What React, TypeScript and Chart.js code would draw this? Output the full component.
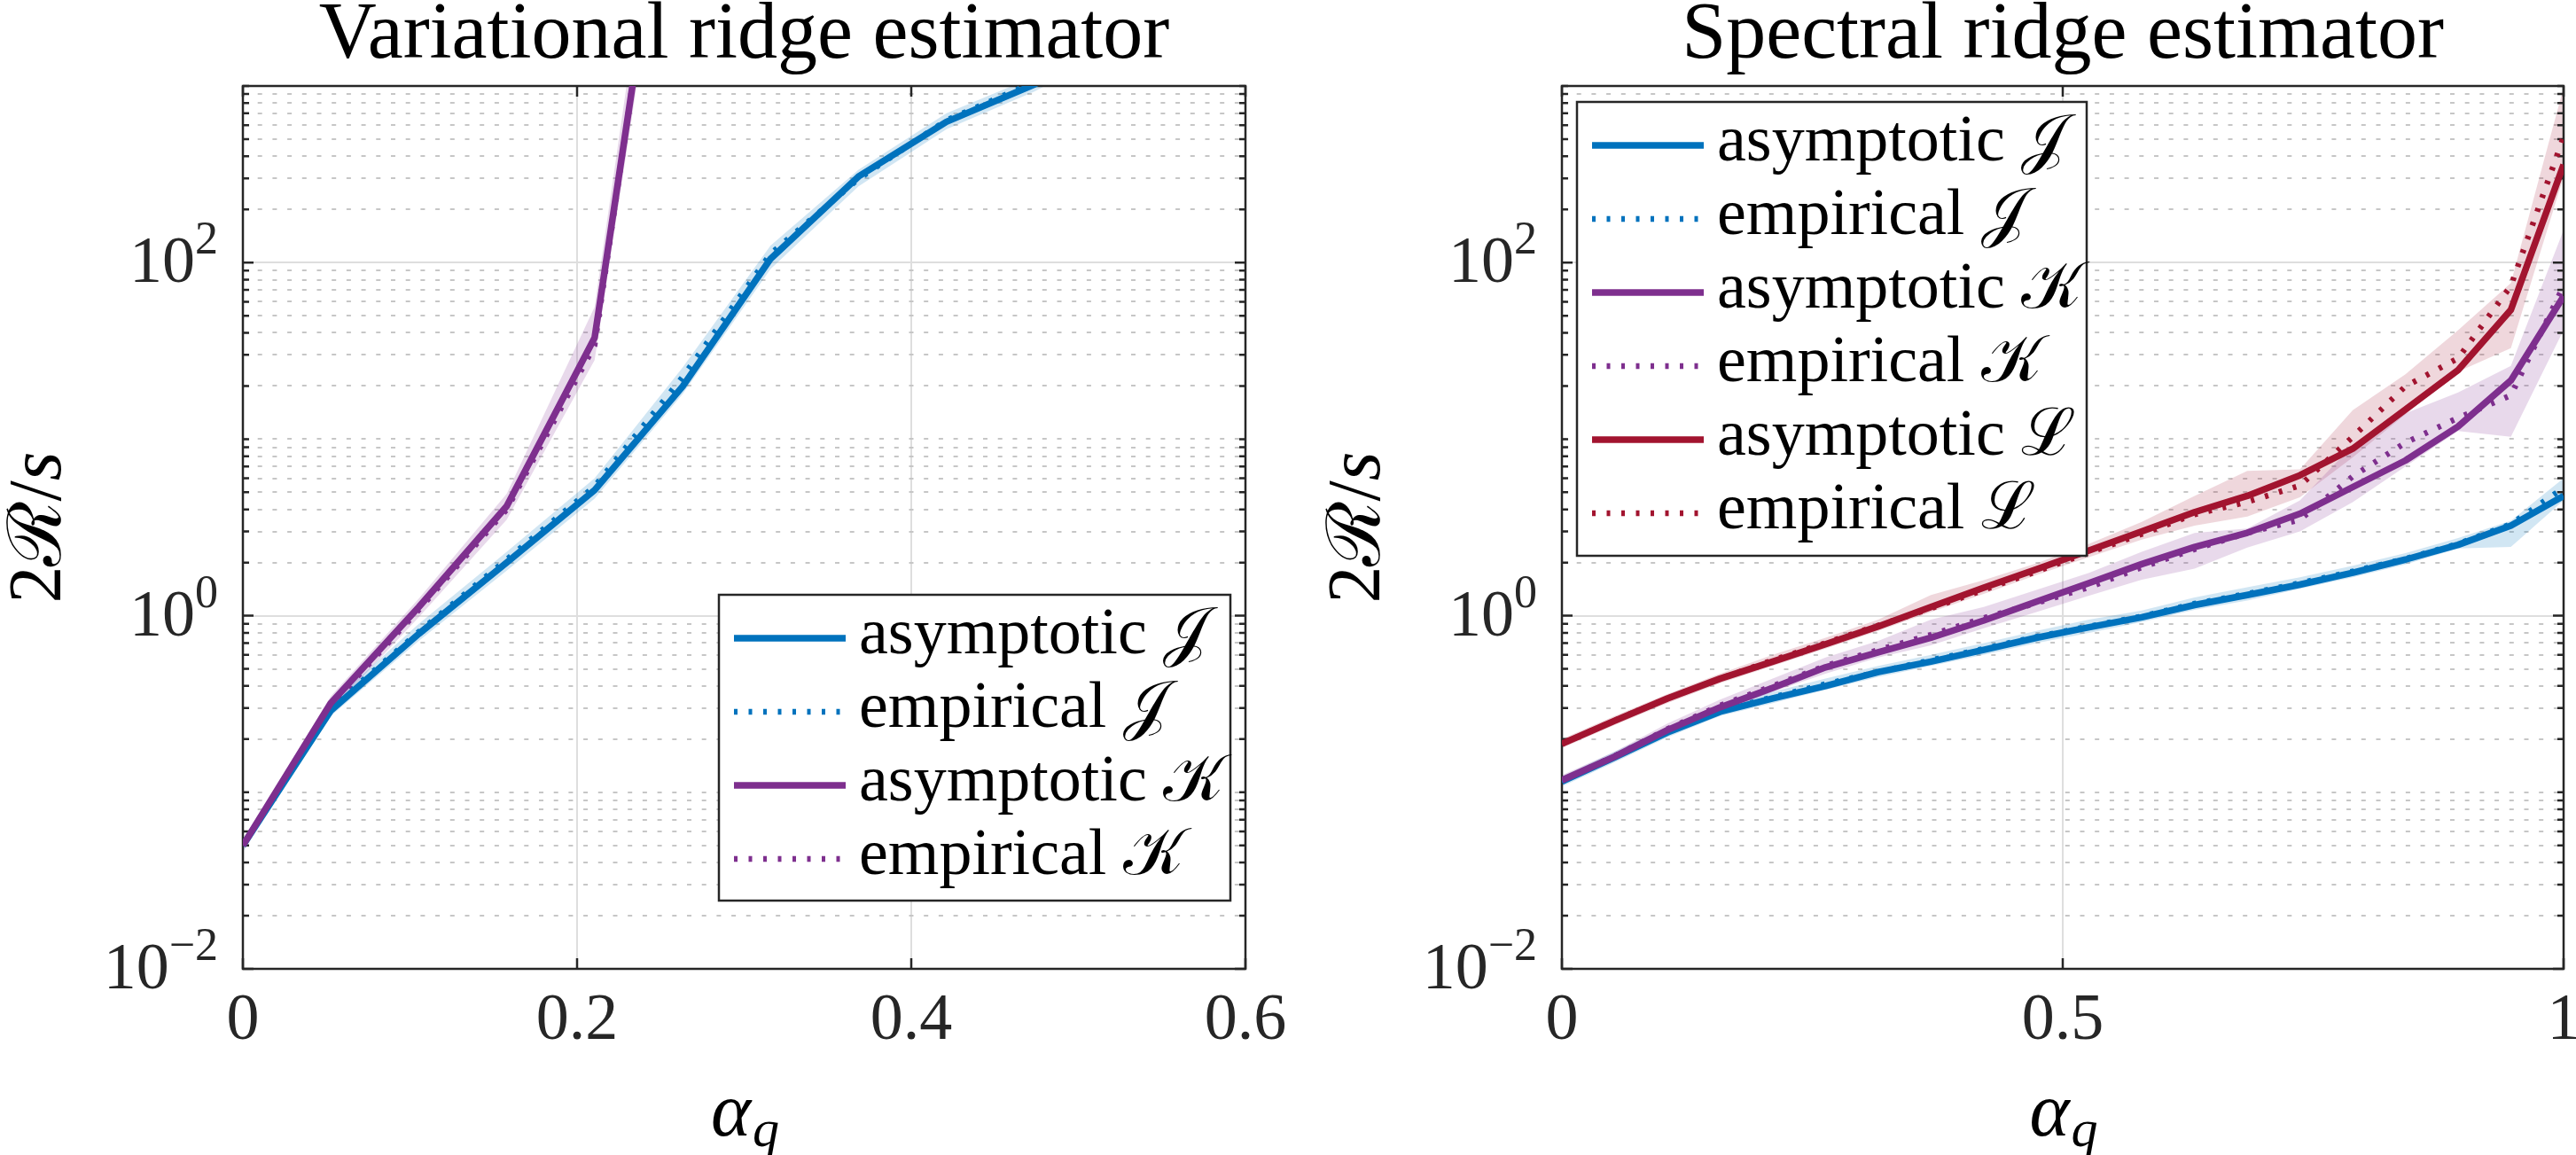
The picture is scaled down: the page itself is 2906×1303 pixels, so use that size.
import React, { useEffect, useRef } from "react";
import { Chart, registerables } from "chart.js";

Chart.register(...registerables);

// ---------------- Variational ridge estimator (left panel) ----------------
const ALPHA_VAR = [0, 0.0526, 0.1053, 0.1579, 0.2105, 0.2632, 0.3158, 0.3684, 0.4211, 0.4737, 0.5263];
const VAR_J_ASYM = [0.05, 0.29, 0.79, 2.0, 5.15, 19.9, 105, 307, 627, 1020, 1900];
const VAR_J_EMP = [0.05, 0.3, 0.81, 2.08, 5.4, 22.5, 112, 298, 640, 1050, 2000];
const VAR_J_LO = [0.046, 0.27, 0.72, 1.8, 4.6, 18, 92, 270, 570, 930, 1700];
const VAR_J_HI = [0.054, 0.32, 0.9, 2.3, 6.0, 25.5, 125, 335, 700, 1130, 2200];
const VAR_K_ASYM = [0.05, 0.32, 1.12, 4.17, 37.5, 78000];
const VAR_K_EMP = [0.05, 0.31, 1.08, 4.0, 34, 90000];
const VAR_K_LO = [0.047, 0.29, 0.98, 3.5, 28, 50000];
const VAR_K_HI = [0.053, 0.35, 1.25, 4.9, 56, 160000];

// ---------------- Spectral ridge estimator (right panel) ----------------
const ALPHA_SPEC = [0, 0.0526, 0.1053, 0.1579, 0.2105, 0.2632, 0.3158, 0.3684, 0.4211, 0.4737, 0.5263, 0.5789, 0.6316, 0.6842, 0.7368, 0.7895, 0.8421, 0.8947, 0.9474, 1.0];
const SPEC_J_ASYM = [0.115, 0.158, 0.218, 0.286, 0.34, 0.4, 0.48, 0.55, 0.64, 0.75, 0.86, 0.98, 1.15, 1.31, 1.5, 1.75, 2.08, 2.52, 3.24, 4.77];
const SPEC_J_EMP = [0.115, 0.16, 0.22, 0.29, 0.345, 0.41, 0.48, 0.56, 0.65, 0.76, 0.87, 0.99, 1.17, 1.33, 1.53, 1.78, 2.1, 2.55, 3.3, 5.3];
const SPEC_J_LO = [0.108, 0.148, 0.205, 0.27, 0.32, 0.38, 0.45, 0.52, 0.6, 0.7, 0.8, 0.92, 1.08, 1.22, 1.42, 1.65, 1.95, 2.4, 2.45, 4.5];
const SPEC_J_HI = [0.123, 0.17, 0.235, 0.31, 0.37, 0.44, 0.52, 0.6, 0.7, 0.82, 0.95, 1.07, 1.27, 1.45, 1.65, 1.92, 2.26, 2.75, 3.45, 6.0];
const SPEC_K_ASYM = [0.117, 0.159, 0.225, 0.303, 0.39, 0.51, 0.62, 0.75, 0.94, 1.2, 1.53, 1.96, 2.45, 2.95, 3.78, 5.35, 7.57, 11.8, 21.5, 64.4];
const SPEC_K_EMP = [0.117, 0.16, 0.228, 0.31, 0.4, 0.52, 0.64, 0.78, 0.97, 1.18, 1.45, 1.88, 2.38, 2.94, 3.5, 6.15, 9.55, 13.2, 17.7, 73.8];
const SPEC_K_LO = [0.11, 0.15, 0.21, 0.285, 0.37, 0.47, 0.58, 0.68, 0.85, 1.05, 1.3, 1.6, 1.85, 2.43, 3.0, 4.4, 7.0, 11.1, 10.3, 41.5];
const SPEC_K_HI = [0.125, 0.17, 0.245, 0.335, 0.44, 0.58, 0.72, 0.95, 1.12, 1.4, 1.75, 2.3, 2.94, 3.12, 4.5, 9.2, 14, 18.4, 26, 153];
const SPEC_L_ASYM = [0.188, 0.254, 0.34, 0.44, 0.55, 0.69, 0.87, 1.12, 1.44, 1.83, 2.34, 3.0, 3.86, 4.77, 6.24, 8.83, 14.7, 24.6, 54, 358];
const SPEC_L_EMP = [0.188, 0.255, 0.34, 0.44, 0.56, 0.7, 0.88, 1.1, 1.4, 1.78, 2.28, 2.9, 3.75, 4.41, 5.46, 10.3, 19.9, 28.7, 73.8, 515];
const SPEC_L_LO = [0.178, 0.24, 0.32, 0.415, 0.52, 0.65, 0.82, 1.05, 1.33, 1.7, 2.15, 2.7, 3.24, 3.64, 4.68, 7.87, 13.8, 24.1, 32.8, 307];
const SPEC_L_HI = [0.2, 0.27, 0.36, 0.47, 0.6, 0.75, 0.95, 1.31, 1.59, 1.98, 2.55, 3.4, 4.77, 6.6, 6.75, 14.6, 23.3, 41.4, 76.6, 980];

// ---------------- axes / labels ----------------
const X_TICKS_VAR = [0, 0.2, 0.4, 0.6];
const X_LABELS_VAR = ["0", "0.2", "0.4", "0.6"];
const X_TICKS_SPEC = [0, 0.5, 1];
const X_LABELS_SPEC = ["0", "0.5", "1"];
const Y_MAJOR = [0.01, 1, 100];
const Y_MAJOR_EXP = ["\u22122", "0", "2"];
const TITLE_VAR = "Variational ridge estimator";
const TITLE_SPEC = "Spectral ridge estimator";
const SYMBOLS = ["\u{1D4A5}", "\u{1D4A6}", "\u2112"];
const LEGEND_PREFIX = ["asymptotic ", "empirical "];

// ---------------- styles ----------------
const SERIF = '"Liberation Serif", "DejaVu Serif", serif';
const AX = "#262626";
const MAJOR_GRID = "#dedede";
const MINOR_GRID = "#c6c6c6";
const COLORS = ["#0072BD", "#7E2F8E", "#A2142F"];
const BANDS = ["rgba(0,114,189,0.18)", "rgba(126,47,142,0.18)", "rgba(162,20,47,0.17)"];

const Y_GRID: number[] = (() => {
  const out: number[] = [];
  for (let d = -2; d <= 2; d++) for (let m = 1; m <= 9; m++) out.push(Number((m * Math.pow(10, d)).toPrecision(3)));
  out.push(1000);
  return out;
})();
const isMajorY = (v: number) => Y_MAJOR.some((t) => Math.abs(Math.log10(v) - Math.log10(t)) < 1e-6);

type Series = { sym: number; asym: number[]; emp: number[]; lo: number[]; hi: number[] };

const pts = (xs: number[], ys: number[]) => ys.map((y, i) => ({ x: xs[i], y }));

function buildDatasets(alpha: number[], series: Series[]) {
  const ds: any[] = [];
  const rev = [...series].reverse();
  rev.forEach((s) => {
    ds.push({
      label: LEGEND_PREFIX[0] + SYMBOLS[s.sym], data: pts(alpha, s.asym), borderColor: COLORS[s.sym],
      borderWidth: 7.5, pointRadius: 0, fill: false, tension: 0, clip: 0, borderJoinStyle: "round", borderCapStyle: "butt",
    });
  });
  rev.forEach((s) => {
    ds.push({
      label: LEGEND_PREFIX[1] + SYMBOLS[s.sym], data: pts(alpha, s.emp), borderColor: COLORS[s.sym],
      borderWidth: 6.5, borderDash: [4, 12.5], pointRadius: 0, fill: false, tension: 0, clip: 0, borderCapStyle: "butt",
    });
  });
  series.forEach((s) => {
    ds.push({ label: "", data: pts(alpha, s.lo), borderWidth: 0, borderColor: "rgba(0,0,0,0)", pointRadius: 0, fill: false, tension: 0, clip: 0 });
    ds.push({ label: "", data: pts(alpha, s.hi), borderWidth: 0, borderColor: "rgba(0,0,0,0)", backgroundColor: BANDS[s.sym], pointRadius: 0, fill: "-1", tension: 0, clip: 0 });
  });
  return ds;
}

type Panel = {
  title: string; alpha: number[]; series: Series[]; xMax: number; xTicks: number[]; xLabels: string[];
  yWidth: number; padRight: number; legend: { dx: number; dy: number; w: number; h: number; fromRight: boolean };
};

function framePlugin(p: Panel) {
  return {
    id: "matlabFrame",
    beforeDatasetsDraw(chart: any) {
      const { ctx, chartArea: a } = chart;
      const xs = chart.scales.x, ys = chart.scales.y;
      ctx.save();
      ctx.strokeStyle = AX;
      ctx.lineWidth = 2.5;
      ctx.setLineDash([]);
      ctx.strokeRect(a.left, a.top, a.right - a.left, a.bottom - a.top);
      Y_GRID.forEach((v) => {
        const py = ys.getPixelForValue(v);
        const len = isMajorY(v) ? 12 : 7;
        ctx.beginPath();
        ctx.moveTo(a.left, py); ctx.lineTo(a.left + len, py);
        ctx.moveTo(a.right, py); ctx.lineTo(a.right - len, py);
        ctx.stroke();
      });
      p.xTicks.forEach((v) => {
        const px = xs.getPixelForValue(v);
        ctx.beginPath();
        ctx.moveTo(px, a.bottom); ctx.lineTo(px, a.bottom - 12);
        ctx.moveTo(px, a.top); ctx.lineTo(px, a.top + 12);
        ctx.stroke();
      });
      ctx.restore();
    },
    afterDraw(chart: any) {
      const { ctx, chartArea: a } = chart;
      const ys = chart.scales.y;
      ctx.save();
      // y tick labels 10^k
      ctx.fillStyle = AX;
      ctx.textBaseline = "alphabetic";
      ctx.textAlign = "left";
      Y_MAJOR.forEach((v, i) => {
        const py = ys.getPixelForValue(v);
        ctx.font = `74px ${SERIF}`;
        const w10 = ctx.measureText("10").width;
        ctx.font = `52px ${SERIF}`;
        const we = ctx.measureText(Y_MAJOR_EXP[i]).width;
        const right = a.left - 28;
        ctx.font = `74px ${SERIF}`;
        ctx.fillText("10", right - we - w10, py + 22);
        ctx.font = `52px ${SERIF}`;
        ctx.fillText(Y_MAJOR_EXP[i], right - we, py - 10);
      });
      // x axis title alpha_q
      ctx.fillStyle = "#000";
      const cx = (a.left + a.right) / 2;
      ctx.font = `italic 86px ${SERIF}`;
      const wa = ctx.measureText("\u03B1").width;
      ctx.font = `italic 60px ${SERIF}`;
      const wq = ctx.measureText("q").width;
      const x0 = cx - (wa + wq) / 2;
      ctx.font = `italic 86px ${SERIF}`;
      ctx.fillText("\u03B1", x0, 1281);
      ctx.font = `italic 60px ${SERIF}`;
      ctx.fillText("q", x0 + wa + 2, 1293);
      // y axis title 2R/s (rotated)
      const parts: [string, string][] = [
        ["2", `84px ${SERIF}`],
        ["\u211B", `84px ${SERIF}`],
        ["/", `84px ${SERIF}`],
        ["s", `italic 84px ${SERIF}`],
      ];
      let total = 0;
      const widths = parts.map(([t, f]) => { ctx.font = f; const w = ctx.measureText(t).width; total += w; return w; });
      ctx.save();
      ctx.translate(a.left - 206, (a.top + a.bottom) / 2);
      ctx.rotate(-Math.PI / 2);
      let xx = -total / 2;
      parts.forEach(([t, f], i) => { ctx.font = f; ctx.fillText(t, xx, 0); xx += widths[i]; });
      ctx.restore();
      // legend
      const L = p.legend;
      const bx = L.fromRight ? a.right - L.dx - L.w : a.left + L.dx;
      const by = a.top + L.dy;
      ctx.fillStyle = "#fff";
      ctx.fillRect(bx, by, L.w, L.h);
      ctx.strokeStyle = AX;
      ctx.lineWidth = 2.5;
      ctx.strokeRect(bx, by, L.w, L.h);
      const items: { text: string; color: string; dotted: boolean }[] = [];
      p.series.forEach((s) => {
        items.push({ text: LEGEND_PREFIX[0] + SYMBOLS[s.sym], color: COLORS[s.sym], dotted: false });
        items.push({ text: LEGEND_PREFIX[1] + SYMBOLS[s.sym], color: COLORS[s.sym], dotted: true });
      });
      items.forEach((it, i) => {
        const y = by + 49 + i * 83;
        ctx.beginPath();
        ctx.setLineDash(it.dotted ? [4, 12.5] : []);
        ctx.lineWidth = it.dotted ? 6.5 : 7.5;
        ctx.lineCap = "butt";
        ctx.strokeStyle = it.color;
        ctx.moveTo(bx + 17, y);
        ctx.lineTo(bx + 143, y);
        ctx.stroke();
        ctx.setLineDash([]);
        ctx.fillStyle = "#000";
        ctx.font = `74px ${SERIF}`;
        ctx.textBaseline = "alphabetic";
        ctx.fillText(it.text, bx + 158, y + 17);
      });
      ctx.restore();
    },
  };
}

function makeConfig(p: Panel): any {
  return {
    type: "line",
    data: { datasets: buildDatasets(p.alpha, p.series) },
    options: {
      responsive: false,
      animation: false,
      devicePixelRatio: 1,
      events: [],
      layout: { padding: { left: 0, right: p.padRight, top: 0, bottom: 0 } },
      plugins: {
        legend: { display: false },
        tooltip: { enabled: false },
        filler: { drawTime: "beforeDatasetsDraw", propagate: false },
        title: {
          display: true, text: p.title, fullSize: false, color: "#000",
          font: { family: SERIF, size: 90, weight: "normal", lineHeight: 1 },
          padding: { top: -4, bottom: 11 },
        },
      },
      scales: {
        x: {
          type: "linear", min: 0, max: p.xMax,
          afterBuildTicks: (s: any) => { s.ticks = p.xTicks.map((v) => ({ value: v })); },
          afterFit: (s: any) => { s.height = 210; s.paddingLeft = 0; s.paddingRight = 0; },
          ticks: {
            autoSkip: false, maxRotation: 0, minRotation: 0, padding: 15, color: AX,
            font: { family: SERIF, size: 74, lineHeight: 1.2 },
            callback: (_v: any, i: number) => p.xLabels[i],
          },
          grid: {
            drawTicks: false, lineWidth: 2,
            color: (c: any) => { const v = c.tick ? c.tick.value : -1; return v > 0 && v < p.xMax ? MAJOR_GRID : "rgba(0,0,0,0)"; },
          },
          border: { display: false },
        },
        y: {
          type: "logarithmic", min: 0.01, max: 1000,
          afterBuildTicks: (s: any) => { s.ticks = Y_GRID.map((v) => ({ value: v })); },
          afterFit: (s: any) => { s.width = p.yWidth; s.paddingTop = 0; s.paddingBottom = 0; },
          ticks: { display: false },
          grid: {
            drawTicks: false, lineWidth: 2,
            color: (c: any) => {
              const v = c.tick ? c.tick.value : 0;
              if (!v || v <= 0.01000001 || v >= 999.999) return "rgba(0,0,0,0)";
              return isMajorY(v) ? MAJOR_GRID : MINOR_GRID;
            },
          },
          border: { display: false, dash: (c: any) => (c.tick && isMajorY(c.tick.value) ? [] : [5, 11.7]) },
        },
      },
    },
    plugins: [framePlugin(p)],
  };
}

const LEFT: Panel = {
  title: TITLE_VAR, alpha: ALPHA_VAR,
  series: [
    { sym: 0, asym: VAR_J_ASYM, emp: VAR_J_EMP, lo: VAR_J_LO, hi: VAR_J_HI },
    { sym: 1, asym: VAR_K_ASYM, emp: VAR_K_EMP, lo: VAR_K_LO, hi: VAR_K_HI },
  ],
  xMax: 0.6, xTicks: X_TICKS_VAR, xLabels: X_LABELS_VAR, yWidth: 274, padRight: 48,
  legend: { dx: 17, dy: 574, w: 577, h: 345, fromRight: true },
};

const RIGHT: Panel = {
  title: TITLE_SPEC, alpha: ALPHA_SPEC,
  series: [
    { sym: 0, asym: SPEC_J_ASYM, emp: SPEC_J_EMP, lo: SPEC_J_LO, hi: SPEC_J_HI },
    { sym: 1, asym: SPEC_K_ASYM, emp: SPEC_K_EMP, lo: SPEC_K_LO, hi: SPEC_K_HI },
    { sym: 2, asym: SPEC_L_ASYM, emp: SPEC_L_EMP, lo: SPEC_L_LO, hi: SPEC_L_HI },
  ],
  xMax: 1, xTicks: X_TICKS_SPEC, xLabels: X_LABELS_SPEC, yWidth: 309, padRight: 14,
  legend: { dx: 17, dy: 18, w: 575, h: 512, fromRight: false },
};

const FONT_PRELOAD = ['74px "Liberation Serif"', 'italic 74px "Liberation Serif"', '74px "DejaVu Serif"'];

function PanelChart({ panel, left }: { panel: Panel; left: number }) {
  const ref = useRef<HTMLCanvasElement>(null);
  useEffect(() => {
    if (!ref.current) return;
    const chart = new Chart(ref.current, makeConfig(panel));
    let alive = true;
    try {
      Promise.all(FONT_PRELOAD.map((f) => document.fonts.load(f, "Ag10\u03B1\u211B")))
        .then(() => { if (alive) chart.update("none"); })
        .catch(() => {});
    } catch (e) { /* ignore */ }
    return () => { alive = false; chart.destroy(); };
  }, [panel]);
  return (
    <canvas
      ref={ref}
      width={1453}
      height={1303}
      style={{ position: "absolute", left, top: 0, width: 1453, height: 1303, display: "block" }}
    />
  );
}

export default function App() {
  useEffect(() => {
    document.body.style.margin = "0";
    document.body.style.background = "#fff";
  }, []);
  return (
    <div style={{ position: "relative", width: 2906, height: 1303, background: "#fff", overflow: "hidden" }}>
      <PanelChart panel={LEFT} left={0} />
      <PanelChart panel={RIGHT} left={1453} />
    </div>
  );
}
